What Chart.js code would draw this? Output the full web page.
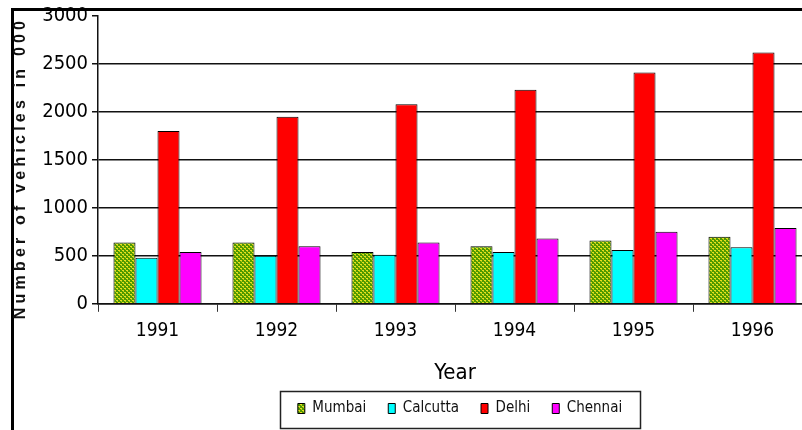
<!DOCTYPE html>
<html>
<head>
<meta charset="utf-8">
<title>Number of vehicles</title>
<script src="https://cdn.jsdelivr.net/npm/chart.js@4.4.1/dist/chart.umd.min.js"></script>
<style>
  html, body { margin: 0; padding: 0; background: #fff; }
  #wrap { width: 802px; height: 430px; overflow: hidden; position: relative; }
  #vehicleChart { display: block; }
</style>
</head>
<body>
<div id="wrap">
  <canvas id="vehicleChart" width="920" height="430"></canvas>
</div>
<script>
// ---- data ----
const years = ['1991', '1992', '1993', '1994', '1995', '1996'];
const mumbai = [640, 640, 540, 600, 660, 700];
const calcutta = [480, 500, 510, 540, 560, 590];
const delhi = [1800, 1950, 2080, 2230, 2410, 2620];
const chennai = [540, 600, 640, 680, 750, 790];
const yTicks = [0, 500, 1000, 1500, 2000, 2500, 3000];

const NARROW = "'Liberation Sans Narrow', 'Arial Narrow', 'DejaVu Sans Condensed', sans-serif";

// dotted green fill used for Mumbai
function makeDots() {
    const c = document.createElement('canvas');
    c.width = 4; c.height = 4;
    const g = c.getContext('2d');
    g.fillStyle = '#4f9a00';
    g.fillRect(0, 0, 4, 4);
    g.fillStyle = '#e8e020';
    g.fillRect(0, 0, 2, 1);
    g.fillRect(2, 2, 2, 1);
    g.fillStyle = '#b8c810';
    g.fillRect(1, 1, 1, 1);
    g.fillRect(3, 3, 1, 1);
    return g.createPattern(c, 'repeat');
}

// outer frame, rotated y title and legend box
const decorations = {
    id: 'decorations',
    beforeDraw(chart) {
        const ctx = chart.ctx;
        ctx.save();
        ctx.strokeStyle = '#000';
        ctx.lineWidth = 3;
        ctx.strokeRect(12.5, 9.5, 2000, 2000);
        ctx.restore();

        // centre the legend on the whole canvas, not just the padded area
        const legend = chart.legend;
        legend.left = 0;
        legend.right = chart.width;
        legend.adjustHitBoxes();
    },
    afterDraw(chart) {
        const ctx = chart.ctx;
        ctx.save();
        ctx.translate(21, 170);
        ctx.rotate(-Math.PI / 2);
        ctx.font = "bold 16px 'Liberation Sans', Arial, sans-serif";
        ctx.letterSpacing = '4.2px';
        ctx.fillStyle = '#111';
        ctx.textAlign = 'center';
        ctx.textBaseline = 'middle';
        ctx.fillText('Number of vehicles in 000', 2, 0);
        ctx.restore();

        const boxes = chart.legend.legendHitBoxes;
        if (boxes && boxes.length) {
            const l = Math.min(...boxes.map(b => b.left)) - 18;
            const r = Math.max(...boxes.map(b => b.left + b.width)) + 18;
            ctx.save();
            ctx.strokeStyle = '#222';
            ctx.lineWidth = 1.5;
            ctx.strokeRect(Math.round(l) + 0.5, 391.5, Math.round(r - l), 37);
            ctx.restore();
        }
    }
};

const ctx = document.getElementById('vehicleChart').getContext('2d');
const barBorder = { borderColor: '#000', borderWidth: 1 };

new Chart(ctx, {
    type: 'bar',
    data: {
        labels: years,
        datasets: [
            { label: 'Mumbai', data: mumbai, backgroundColor: makeDots(), ...barBorder },
            { label: 'Calcutta', data: calcutta, backgroundColor: '#00ffff', ...barBorder },
            { label: 'Delhi', data: delhi, backgroundColor: '#ff0000', ...barBorder },
            { label: 'Chennai', data: chennai, backgroundColor: '#ff00ff', ...barBorder }
        ]
    },
    options: {
        responsive: false,
        animation: false,
        layout: { padding: { top: 6, right: 108, left: 0, bottom: 4 } },
        datasets: { bar: { categoryPercentage: 0.74, barPercentage: 1.0 } },
        plugins: {
            tooltip: { enabled: false },
            legend: {
                position: 'bottom',
                labels: {
                    boxWidth: 7,
                    boxHeight: 10,
                    padding: 22,
                    color: '#111',
                    font: { family: NARROW, size: 15 }
                }
            }
        },
        scales: {
            x: {
                grid: {
                    offset: true,
                    drawOnChartArea: false,
                    tickLength: 8,
                    color: '#333',
                    lineWidth: 1
                },
                border: { color: '#111', width: 1.5 },
                ticks: {
                    color: '#000',
                    padding: 8,
                    font: { family: NARROW, size: 19 }
                },
                title: {
                    display: true,
                    text: 'Year',
                    color: '#000',
                    padding: { top: 9, bottom: -7 },
                    font: { family: NARROW, size: 22 }
                }
            },
            y: {
                min: 0,
                max: 3000,
                afterBuildTicks(scale) {
                    scale.ticks = yTicks.map(v => ({ value: v }));
                },
                afterFit(scale) {
                    scale.width = 98;
                },
                grid: {
                    color: c => (c.tick && c.tick.value === 3000) ? 'rgba(0,0,0,0)' : '#111',
                    tickColor: '#111',
                    lineWidth: 1.5,
                    tickLength: 6
                },
                border: { color: '#111', width: 1.5 },
                ticks: {
                    color: '#000',
                    padding: 4,
                    callback: v => String(v),
                    font: { family: NARROW, size: 20 }
                }
            }
        }
    },
    plugins: [decorations]
});
</script>
</body>
</html>
